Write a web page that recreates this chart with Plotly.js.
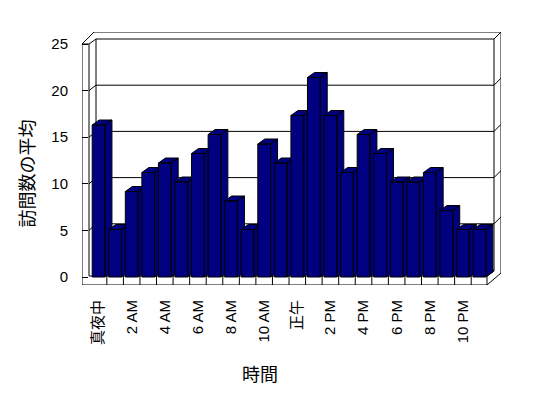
<!DOCTYPE html>
<html><head><meta charset="utf-8">
<script src="https://cdn.plot.ly/plotly-3.0.1.min.js"></script>
<style>html,body{margin:0;padding:0;background:#fff}</style>
</head><body>
<div id="chart" style="width:548px;height:398px"></div>
<script>
// ---- data ----
const hours = ['真夜中','1 AM','2 AM','3 AM','4 AM','5 AM','6 AM','7 AM','8 AM','9 AM','10 AM','11 AM',
               '正午','1 PM','2 PM','3 PM','4 PM','5 PM','6 PM','7 PM','8 PM','9 PM','10 PM','11 PM'];
const visits = [16,5,9,11,12,10,13,15,8,5,14,12,17,21,17,11,15,13,10,10,11,7,5,5];
const yTicks = [0,5,10,15,20,25];
const xTitle = '時間';
const yTitle = '訪問数の平均';

// ---- geometry helpers (pixel <-> data for the decorative 3D frame) ----
const W = 548, H = 398, M = {l:82, r:47, t:32, b:113};
const XR = [-1, 24.3], YR = [-0.842, 25.79];
const pw = W - M.l - M.r, ph = H - M.t - M.b;
const pxPerX = pw / (XR[1] - XR[0]);
const pxPerY = ph / (YR[1] - YR[0]);
const X = px => XR[0] + (px - M.l) / pxPerX;
const Y = py => YR[0] + (M.t + ph - py) / pxPerY;
const frontScale = 9.32 / pxPerY;           // front (axis) plane
const backScale = 9.24 / pxPerY;            // back wall plane
const backZero = Y(270);
const frontVal = v => v * frontScale;
const backVal = v => backZero + v * backScale;

const barW = 0.77, dX = 7 / pxPerX, dY = 5 / pxPerY;
const NAVY = '#000080';

// ---- bars (side, top and front faces) ----
const traces = visits.map((v, i) => {
  const l = i - barW/2, r = i + barW/2;
  const xs = [r, r, r+dX, r+dX, r, null,
              l, r, r+dX, l+dX, l, null,
              l, r, r, l, l];
  const ys = [0, v, v+dY, dY, 0, null,
              v, v, v+dY, v+dY, v, null,
              0, 0, v, v, 0];
  return {type:'scatter', mode:'lines', x:xs, y:ys, fill:'toself', fillcolor:NAVY,
          line:{color:'#000', width:1}, hoverinfo:'skip', showlegend:false, connectgaps:false};
});

// ---- frame shapes ----
const shapes = [];
const L = (x0,y0,x1,y1) => shapes.push({type:'line', xref:'x', yref:'y', x0, y0, x1, y1,
                                         line:{color:'#000', width:1}, layer:'below'});
const P = (a,b,c,d) => L(X(a), Y(b), X(c), Y(d));
// outer box
P(82,285, 82,44); P(82,44, 94,32); P(94,32, 501,32); P(501,32, 501,273);
P(501,273, 487,285); P(487,285, 82,285);
// left wall
P(82,44, 89,44); P(89,44, 89,276);
// back wall
P(96,39, 96,270); P(494,39, 494,271); P(494,39, 501,32);
// floor
P(89,276, 487,276); P(487,276, 487,285); P(487,276, 494,271); P(96,270, 494,270);
// gridlines on back wall + joins on the side walls
yTicks.forEach(v => {
  if (v === 0) return;
  const by = backVal(v), fy = frontVal(v);
  L(X(96), by, X(494), by);
  L(X(89), fy, X(96), by);
  L(X(494), by, X(501), by + 7/pxPerY);
});
// category dividers on the floor's front edge
for (let k = 1; k < hours.length; k++) {
  L(k - 0.5, Y(285), k - 0.5, Y(276));
}

const tickIdx = hours.map((h, i) => i).filter(i => i % 2 === 0);
const FONT = 'Liberation Sans, "Noto Sans CJK JP", sans-serif';

const layout = {
  width: W, height: H, margin: M,
  paper_bgcolor: '#fff', plot_bgcolor: '#fff',
  font: {family: FONT, size: 15, color: '#000'},
  showlegend: false,
  xaxis: {range: XR, showgrid: false, zeroline: false, showline: false, fixedrange: true,
          tickmode: 'array', tickvals: tickIdx, ticktext: tickIdx.map(i => hours[i]),
          tickangle: -90, ticks: '', ticklabelstandoff: 11, tickfont: {size: 15, color: '#000'}},
  yaxis: {range: YR, showgrid: false, zeroline: false, showline: false, fixedrange: true,
          tickmode: 'array', tickvals: yTicks.map(frontVal), ticktext: yTicks.map(String),
          ticks: 'inside', ticklen: 6, tickwidth: 1, tickcolor: '#000',
          ticklabelstandoff: 13, tickfont: {size: 15, color: '#000'}},
  shapes: shapes,
  annotations: [
    {text: yTitle, xref: 'paper', yref: 'paper', x: (27.5 - M.l)/pw, y: (M.t + ph - 174)/ph,
     textangle: -90, showarrow: false, xanchor: 'center', yanchor: 'middle', font: {size: 18}},
    {text: xTitle, xref: 'paper', yref: 'paper', x: (259.5 - M.l)/pw, y: (M.t + ph - 375)/ph,
     showarrow: false, xanchor: 'center', yanchor: 'middle', font: {size: 18}}
  ]
};

Plotly.newPlot('chart', traces, layout, {displayModeBar: false, staticPlot: true});
</script>
</body></html>
